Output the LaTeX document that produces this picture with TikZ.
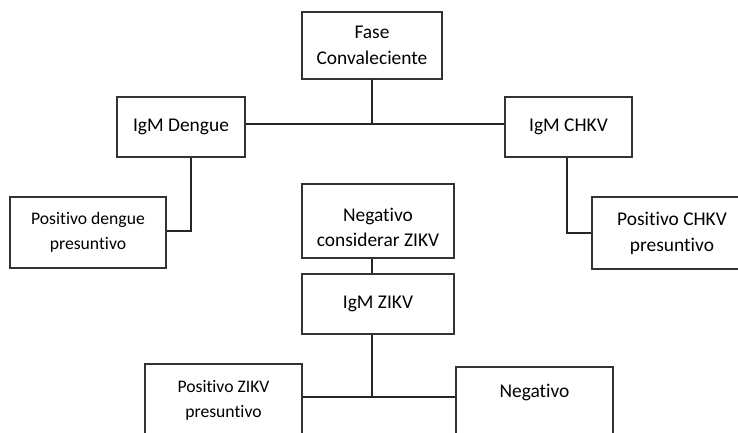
\documentclass[tikz,border=0pt]{standalone}
\usepackage{fontspec}
\setmainfont{Carlito}[Ligatures=NoCommon]
\usepackage{tikz}
\usetikzlibrary{calc}

\begin{document}
\begin{tikzpicture}[x=1bp, y=-1bp,
        node_style/.style={rectangle,draw=black!80,line width=1.2bp,fill=white,inner sep=0pt,align=center,font=\fontsize{19.5}{26}\selectfont},
        small_node_style/.style={node_style,font=\fontsize{17.7}{25}\selectfont},
        edge_style/.style={draw=black!85, line width=1.1bp}]

        \useasboundingbox (0,0) rectangle (738,432);
        \fill [white] (0,0) rectangle (738,432);
        \clip (0,0) rectangle (738,432);

        \node [node_style, minimum width=140bp, minimum height=67bp](n1) at (372,45.5) {Fase\\Convaleciente};

        \node [node_style, minimum width=128bp, minimum height=60bp](n2) at (181,127) {IgM Dengue};

        \node [node_style, minimum width=127bp, minimum height=60bp](n3) at (568.5,127) {IgM CHKV};

        \node [small_node_style, minimum width=156bp, minimum height=71bp](n4) at (88,232.5) {Positivo dengue\\presuntivo};

        \node [node_style, minimum width=152bp, minimum height=74bp, text height=52bp](n5) at (378,221) {Negativo\\considerar ZIKV};

        \node [node_style, minimum width=160bp, minimum height=72bp](n6) at (672,233) {Positivo CHKV\\presuntivo};

        \node [node_style, minimum width=152bp, minimum height=60bp](n7) at (378,304) {IgM ZIKV};

        \node [small_node_style, minimum width=157bp, minimum height=72bp](n8) at (223.5,400) {Positivo ZIKV\\presuntivo};

        \node [node_style, minimum width=157bp, minimum height=72bp, text depth=24bp](n9) at (534.5,403) {Negativo};

        \draw [edge_style] (n1.south) -- ($(n1.south |- n2.east)+(0,-3)$);

        \draw [edge_style] ($(n2.east)+(0,-3)$) -- ($(n3.west)+(0,-3)$);

        \draw [edge_style] ([xshift=10bp]n2.south) |- ($(n4.east)+(0,-1.5)$);

        \draw [edge_style] ([xshift=-1.5bp]n3.south) |- (n6.west);

        \draw [edge_style] ([xshift=-6bp]n5.south) -- ([xshift=-6bp]n7.north);

        \draw [edge_style] ([xshift=-6bp]n7.south) |- ($(n8.east)+(0,-3)$);

        \draw [edge_style] ($(n8.east)+(0,-3)$) -- ($(n8.east -| n9.west)+(0,-3)$);

        \end{tikzpicture}
\end{document}
